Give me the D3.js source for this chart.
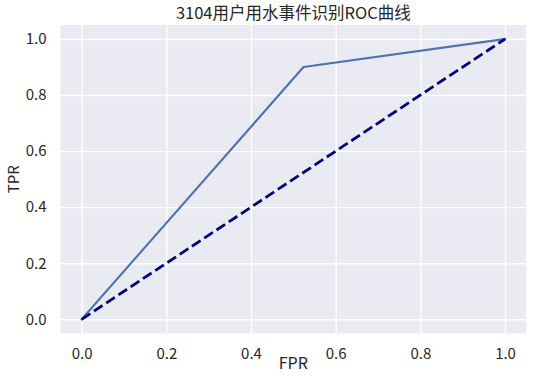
<!DOCTYPE html>
<html>
<head>
<meta charset="utf-8">
<script src="https://d3js.org/d3.v7.min.js"></script>
<style>
  html, body { margin: 0; padding: 0; background: #fff; }
  svg { display: block; }
  text { font-family: "Noto Sans CJK SC", "DejaVu Sans", sans-serif; fill: #262626; }
</style>
</head>
<body>
<svg id="chart" width="552" height="376"></svg>
<script>
// ---- data ----
const fpr = [0, 0.524, 1];
const tpr = [0, 0.9, 1];
const diagX = [0, 1];
const diagY = [0, 1];
const xTicks = [0, 0.2, 0.4, 0.6, 0.8, 1.0];
const yTicks = [0, 0.2, 0.4, 0.6, 0.8, 1.0];
const titleText = "3104用户用水事件识别ROC曲线";
const xLabel = "FPR";
const yLabel = "TPR";

// ---- layout ----
const W = 552, H = 376;
const plot = { left: 60.5, right: 526.2, top: 25, bottom: 333.3 };

const svg = d3.select("#chart");

const x = d3.scaleLinear().domain([-0.05, 1.05]).range([plot.left, plot.right]);
const y = d3.scaleLinear().domain([-0.05, 1.05]).range([plot.bottom, plot.top]);

// background
svg.append("rect")
  .attr("x", plot.left).attr("y", plot.top)
  .attr("width", plot.right - plot.left).attr("height", plot.bottom - plot.top)
  .attr("fill", "#EAEAF2");

// grid
const gx = svg.append("g")
  .attr("transform", `translate(0,${plot.bottom})`)
  .call(d3.axisBottom(x).tickValues(xTicks).tickSize(-(plot.bottom - plot.top)).tickFormat(""));
gx.select(".domain").remove();
gx.selectAll("line").attr("stroke", "#fff").attr("stroke-width", 1.39);

const gy = svg.append("g")
  .attr("transform", `translate(${plot.left},0)`)
  .call(d3.axisLeft(y).tickValues(yTicks).tickSize(-(plot.right - plot.left)).tickFormat(""));
gy.select(".domain").remove();
gy.selectAll("line").attr("stroke", "#fff").attr("stroke-width", 1.39);

// tick labels
const ax = svg.append("g")
  .attr("transform", `translate(0,${plot.bottom})`)
  .call(d3.axisBottom(x).tickValues(xTicks).tickSize(0).tickPadding(15).tickFormat(d3.format(".1f")));
ax.select(".domain").remove();
ax.selectAll("text").attr("font-size", "15px").attr("fill", "#262626")
  .attr("font-family", "\"Noto Sans CJK SC\", sans-serif");

const ay = svg.append("g")
  .attr("transform", `translate(${plot.left},0)`)
  .call(d3.axisLeft(y).tickValues(yTicks).tickSize(0).tickPadding(14).tickFormat(d3.format(".1f")));
ay.select(".domain").remove();
ay.selectAll("text").attr("font-size", "15px").attr("fill", "#262626")
  .attr("font-family", "\"Noto Sans CJK SC\", sans-serif");

// lines
const line = d3.line().x(d => x(d[0])).y(d => y(d[1]));

svg.append("path")
  .datum(fpr.map((v, i) => [v, tpr[i]]))
  .attr("d", line)
  .attr("fill", "none")
  .attr("stroke", "#4C72B0")
  .attr("stroke-width", 2.08)
  .attr("stroke-linejoin", "round")
  .attr("stroke-linecap", "square");

svg.append("path")
  .datum(diagX.map((v, i) => [v, diagY[i]]))
  .attr("d", line)
  .attr("fill", "none")
  .attr("stroke", "navy")
  .attr("stroke-width", 2.78)
  .attr("stroke-dasharray", "10.3,4.4");

// title & labels
svg.append("text")
  .attr("x", (plot.left + plot.right) / 2).attr("y", 18.5)
  .attr("text-anchor", "middle")
  .attr("font-size", "16.5px")
  .text(titleText);

svg.append("text")
  .attr("x", (plot.left + plot.right) / 2).attr("y", 369)
  .attr("text-anchor", "middle")
  .attr("font-size", "16px")
  .text(xLabel);

svg.append("text")
  .attr("transform", `translate(18.5,${(plot.top + plot.bottom) / 2}) rotate(-90)`)
  .attr("text-anchor", "middle")
  .attr("font-size", "15px")
  .text(yLabel);
</script>
</body>
</html>
